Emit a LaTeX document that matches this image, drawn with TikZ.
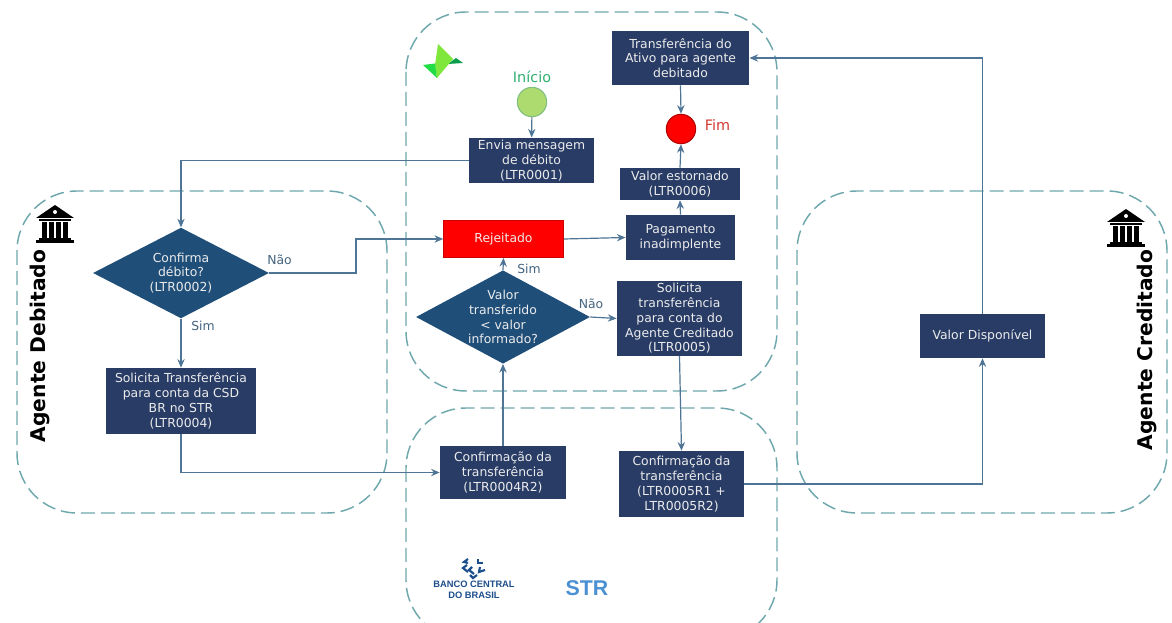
\documentclass[tikz,border=0pt]{standalone}
\usepackage{fontspec}
\setmainfont{DejaVu Sans}
\newfontfamily\logofont{Liberation Sans}
\usetikzlibrary{arrows.meta,shapes.geometric}
\definecolor{boxblue}{HTML}{283C66}
\definecolor{diablue}{HTML}{1F4E79}
\definecolor{linkblue}{HTML}{4F7596}
\definecolor{zonegreen}{HTML}{6FA8AC}
\definecolor{labelblue}{HTML}{44647F}
\definecolor{strblue}{HTML}{4A90D2}
\definecolor{bcblue}{HTML}{1C4E8C}
\definecolor{logolime}{HTML}{7FE63C}
\definecolor{logogreen}{HTML}{22DC46}
\definecolor{logodark}{HTML}{0A9C4C}
\definecolor{startgreen}{HTML}{AEDB70}
\definecolor{starttext}{HTML}{2FB070}
\definecolor{endtext}{HTML}{D03A34}
\tikzset{
	zone/.style={draw=zonegreen, line width=1.1pt, dash pattern=on 10.5pt off 4.5pt, rounded corners=45pt},
	stepbox/.style={draw=none, fill=boxblue, text=white!92!black, align=center, font=\fontsize{9.3}{11.1}\selectfont, inner sep=0pt},
	choice/.style={diamond, aspect=1.9, fill=diablue, text=white!92!black, align=center, font=\fontsize{9.3}{11.1}\selectfont, inner sep=0pt},
	link/.style={draw=linkblue, line width=0.9pt, -{Stealth[length=6.5pt,width=5.5pt]}},
	tag/.style={text=labelblue, font=\fontsize{9.3}{11}\selectfont, inner sep=0pt},
	agent/.style={rotate=90, font=\fontsize{15.2}{18}\selectfont\bfseries, inner sep=0pt}
}
\newcommand{\bankicon}[2]{%
	\begin{scope}[shift={(#1,#2)}]
		\fill[black] (0,13) -- (19,0) -- (38,13) -- cycle;
		\fill[white] (19,7) circle (2);
		\fill[black] (3,14.5) rectangle (35,16.5);
		\foreach \colx in {6,13,20,27} {
			\fill[black] (\colx,17) rectangle ++(4.5,16);
		}
		\fill[black] (3,33) rectangle (35,35);
		\fill[black] (0,35.5) rectangle (38,38);
	\end{scope}}
\begin{document}
\begin{tikzpicture}[x=0.75pt,y=-0.75pt]
	\useasboundingbox (0,0) rectangle (1172,623);
	\clip (0,0) rectangle (1172,623);
	%zones
	\draw[zone] (406,12) rectangle (777,391);
	\draw[zone] (406,408) rectangle (777,640);
	\draw[zone] (17,191) rectangle (387,513);
	\draw[zone] (797,191) rectangle (1167,513);

	%logos
	\fill[logodark] (448,64) -- (456,58) -- (463,63) -- cycle;
	\fill[logolime] (438,44) -- (453,59) -- (437,78) -- (435,65) -- cycle;
	\fill[logogreen] (423,65) -- (435,63.5) -- (437,78) -- cycle;
	\bankicon{36}{205}
	\bankicon{1107}{209}
	\begin{scope}[bcblue, line width=1.6pt]
		\draw (468,559) -- (464,562) -- (468,563);
		\draw (478,559) -- (478,563) -- (483,563);
		\draw (467,565) -- (463,568) -- (468,572);
		\draw (472,567) -- (469,570) -- (474,574);
		\draw (480,567) -- (479,572) -- (485,570);
		\draw (470,575) -- (473,578) -- (477,575);
	\end{scope}
	\node[text=bcblue, align=center, inner sep=0pt, font=\logofont\fontsize{7}{8}\selectfont\bfseries] (bcb) at (474,590) {BANCO CENTRAL\\DO BRASIL};
	\node[text=strblue, inner sep=0pt, font=\logofont\fontsize{16}{18}\selectfont\bfseries] (str) at (587,588) {STR};

	%agents
	\node[agent] (agdeb) at (40,346) {Agente Debitado};
	\node[agent] (agcre) at (1147,350) {Agente Creditado};

	%start and end
	\node[circle, fill=startgreen, draw=green!50!black!50, line width=0.8pt, minimum size=22pt, inner sep=0pt] (inicio) at (532,102) {};
	\node[text=starttext, font=\fontsize{10.8}{12}\selectfont, inner sep=0pt] (tinicio) at (532,77) {Início};
	\node[circle, fill=red, draw=red!70!black, line width=0.8pt, minimum size=22pt, inner sep=0pt] (fim) at (681,129) {};
	\node[text=endtext, font=\fontsize{10.8}{12}\selectfont, inner sep=0pt] (tfim) at (717.5,125) {Fim};

	%boxes
	\node[stepbox, minimum width=103pt, minimum height=40.5pt] (ativo) at (680.5,58) {Transferência do\\Ativo para agente\\debitado};
	\node[stepbox, minimum width=94pt, minimum height=34pt] (envia) at (531.5,160.5) {Envia mensagem\\de débito\\(LTR0001)};
	\node[stepbox, minimum width=90pt, minimum height=24pt] (estorno) at (680,184) {Valor estornado\\(LTR0006)};
	\node[stepbox, minimum width=82pt, minimum height=34pt] (pagamento) at (680.5,237.5) {Pagamento\\inadimplente};
	\node[stepbox, fill=red, draw=red!80!black, minimum width=90pt, minimum height=28pt] (rejeitado) at (503.5,239) {Rejeitado};
	\node[stepbox, minimum width=94pt, minimum height=56pt] (sol5) at (679.5,318.5) {Solicita\\transferência\\para conta do\\Agente Creditado\\(LTR0005)};
	\node[stepbox, minimum width=94.5pt, minimum height=40pt] (conf4) at (503,472.5) {Confirmação da\\transferência\\(LTR0004R2)};
	\node[stepbox, minimum width=94pt, minimum height=49.5pt] (conf5) at (681.5,484) {Confirmação da\\transferência\\(LTR0005R1 +\\LTR0005R2)};
	\node[stepbox, minimum width=112.5pt, minimum height=49.5pt] (sol4) at (181,401) {Solicita Transferência\\para conta da CSD\\BR no STR\\(LTR0004)};
	\node[stepbox, minimum width=94pt, minimum height=33pt] (disp) at (982.5,336) {Valor Disponível};

	%choices
	\node[choice, minimum width=132pt, minimum height=68pt] (dbt) at (181,273) {Confirma\\débito?\\(LTR0002)};
	\node[choice, minimum width=130.5pt, minimum height=70pt] (vlr) at (503,317) {Valor\\transferido\\< valor\\informado?};

	%labels
	\node[tag] (tnao1) at (279.5,260) {Não};
	\node[tag] (tsim1) at (203,326) {Sim};
	\node[tag] (tsim2) at (529,269) {Sim};
	\node[tag] (tnao2) at (591,304) {Não};

	%connectors
	\draw[link] (inicio) -- (envia);
	\draw[link] (envia.west) -| (dbt.north);
	\draw[link] (dbt.east) -- (356,273) |- (rejeitado.west);
	\draw[link] (dbt.south) -- (sol4.north);
	\draw[link] (sol4.south) |- (conf4.west);
	\draw[link] (conf4.north) -- (vlr.south);
	\draw[link] (vlr.north) -- (rejeitado.south);
	\draw[link] (vlr.east) -- (sol5.west);
	\draw[link] (rejeitado.east) -- (pagamento.west);
	\draw[link] (pagamento.north) -- (estorno.south);
	\draw[link] (estorno.north) -- (fim.south);
	\draw[link] (ativo.south) -- (fim.north);
	\draw[link] (sol5.south) -- (conf5.north);
	\draw[link] (conf5.east) -| (disp.south);
	\draw[link] (disp.north) |- (ativo.east);
\end{tikzpicture}
\end{document}
